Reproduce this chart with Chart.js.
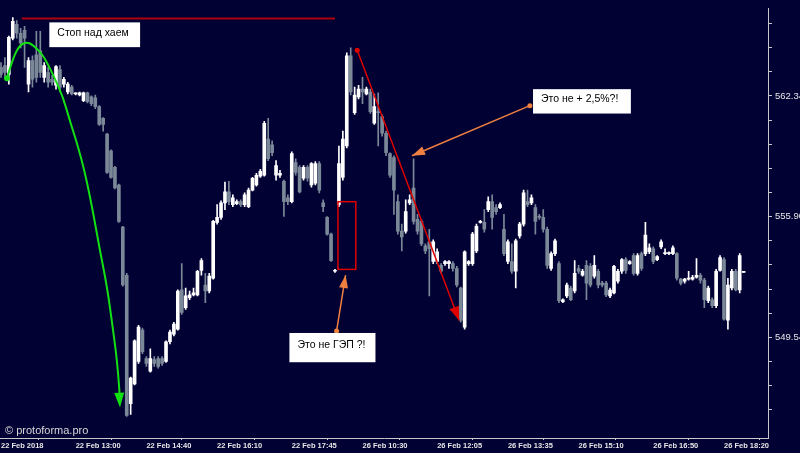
<!DOCTYPE html>
<html>
<head>
<meta charset="utf-8">
<script src="https://cdn.jsdelivr.net/npm/chart.js@4.4.1/dist/chart.umd.min.js"></script>
<style>
  html, body { margin: 0; padding: 0; background: #010134; }
  #wrap { width: 800px; height: 453px; }
</style>
</head>
<body>
<div id="wrap"><canvas id="chart"></canvas></div>
<script>
// ── Data ─────────────────────────────────────────────────
const opens = [563.86,563.96,563.49,565.42,566.15,565.68,565.84,562.97,564.22,564.53,564.74,563.33,563.59,563.23,562.91,563.75,562.97,562.55,562.81,562.44,
  562.39,562.08,562.50,562.29,562.24,561.77,561.14,560.30,559.41,558.53,557.59,555.34,552.78,545.93,546.98,548.18,549.85,548.34,547.66,548.28,
  548.34,548.34,548.18,549.23,549.64,549.90,552.00,551.05,551.58,551.73,551.73,553.04,552.26,551.94,552.62,555.60,555.86,556.64,557.22,556.54,
  556.59,556.70,556.54,556.44,557.32,557.59,558.06,558.11,560.04,559.73,558.11,558.11,557.79,556.91,556.70,558.79,558.53,557.95,558.53,557.59,
  557.69,558.73,556.64,555.86,554.97,552.99,556.54,558.00,559.67,564.48,561.45,562.29,562.70,562.44,562.55,560.88,561.50,561.24,560.35,559.26,
  559.05,556.70,555.13,555.13,556.64,557.43,555.76,555.65,554.35,554.56,553.51,553.51,553.30,553.40,553.40,553.40,553.14,552.10,550.01,553.40,
  553.40,554.08,555.60,555.60,556.28,556.70,556.38,556.38,555.23,553.51,553.51,552.99,554.87,555.50,556.70,556.64,556.38,555.91,555.86,555.23,
  553.14,553.93,553.40,551.37,551.68,552.10,551.94,553.14,552.78,553.30,553.25,552.73,552.99,552.36,552.36,551.68,551.84,552.46,552.99,553.61,
  553.40,553.82,552.88,553.93,553.93,554.03,554.19,553.61,554.29,553.93,553.93,553.93,553.93,552.57,552.46,552.57,552.57,552.67,552.78,552.52,
  551.42,551.47,551.16,553.04,553.61,550.38,552.10,552.99,551.99,552.93];
const highs = [564.12,564.38,565.53,566.52,566.36,565.95,566.05,564.38,564.48,565.79,565.79,564.12,563.86,563.44,563.96,563.96,563.33,563.07,562.91,562.50,
  562.55,562.55,562.55,562.34,562.39,561.82,561.19,560.35,559.47,558.58,557.64,555.39,552.88,547.35,549.33,550.11,549.96,548.44,548.86,548.44,
  548.44,548.44,549.28,549.85,550.27,552.00,553.40,552.10,551.94,552.10,553.04,553.67,552.88,552.88,555.70,556.54,556.75,557.74,557.79,557.06,
  556.80,556.80,557.17,557.43,558.00,558.21,558.42,560.98,561.14,559.94,558.89,558.37,557.85,557.06,559.36,558.99,558.63,558.63,558.63,558.79,
  558.84,558.84,556.80,555.91,555.02,553.09,559.67,560.46,564.64,564.90,562.81,562.91,563.33,562.81,562.70,562.44,562.50,561.35,560.46,559.31,
  559.15,557.06,555.50,556.80,557.06,558.99,556.02,555.76,554.45,555.23,554.66,554.19,553.40,553.56,553.56,553.51,553.25,552.15,554.08,553.56,
  555.07,555.50,555.70,556.28,556.96,557.06,556.54,556.64,556.02,554.66,554.45,554.71,555.60,557.32,557.32,557.06,556.54,556.02,556.28,555.34,
  554.03,554.71,553.51,551.52,552.36,552.20,553.56,553.30,553.09,553.56,553.40,553.82,553.09,552.46,552.46,552.10,553.30,553.09,553.67,553.72,
  553.56,553.93,553.93,554.03,555.60,554.45,554.29,553.82,554.66,554.19,554.03,554.35,553.98,552.62,552.62,552.99,552.78,553.67,552.88,552.62,
  552.20,551.58,553.09,553.82,553.72,552.62,553.09,553.09,553.93,552.95];
const lows = [563.33,563.33,562.97,565.32,565.42,564.90,563.86,562.55,562.81,563.07,563.33,563.07,562.81,562.91,562.70,562.55,562.81,562.44,562.39,562.39,
  562.34,562.03,561.97,561.82,561.66,560.77,560.46,558.21,557.95,557.38,555.60,552.20,545.25,545.36,546.93,548.08,548.60,547.92,547.61,547.92,
  547.82,547.97,548.13,549.12,549.54,549.85,550.69,550.95,551.47,551.68,551.68,552.78,551.32,551.84,552.57,555.50,555.76,556.28,556.54,556.44,
  556.54,556.44,556.44,556.38,557.27,557.53,558.00,558.06,558.89,559.15,557.85,558.00,555.91,556.54,556.64,558.11,557.17,557.85,557.79,557.48,
  557.59,557.17,556.17,554.92,553.51,552.93,556.44,557.85,559.57,562.39,561.35,562.18,561.92,562.39,561.40,560.82,559.67,560.20,559.15,558.00,
  556.02,554.97,554.08,555.02,556.54,555.50,554.97,554.35,553.93,551.68,553.40,553.40,552.88,553.30,553.14,552.99,552.15,550.27,549.90,553.30,
  553.30,553.98,555.55,555.07,556.17,555.23,556.02,556.33,553.82,553.40,552.88,552.10,554.76,555.39,556.44,556.54,554.97,555.76,555.07,553.14,
  553.04,553.82,551.32,551.32,551.58,551.42,551.84,552.88,552.73,551.47,552.15,552.62,552.10,552.15,551.63,551.58,551.78,552.36,552.88,552.88,
  553.35,552.78,552.78,553.04,553.82,553.93,553.40,553.56,554.19,553.88,553.88,553.88,552.52,552.26,552.36,552.52,552.52,552.62,552.36,551.05,
  551.32,551.05,551.05,552.99,550.38,549.90,552.00,551.94,551.84,552.93];
const closes = [563.49,563.59,565.47,566.31,565.68,565.16,565.42,564.22,563.23,563.33,563.59,563.96,563.07,563.07,563.91,562.81,563.23,562.97,562.44,562.50,
  562.50,562.50,562.03,561.92,561.77,560.82,560.82,558.26,558.00,557.43,555.65,552.26,545.30,547.29,549.28,550.01,548.70,548.08,548.34,548.08,
  547.92,548.08,549.23,549.75,550.17,551.94,550.79,551.68,551.73,551.84,552.99,553.56,551.94,552.73,555.65,555.86,556.64,557.22,556.70,556.91,
  556.70,556.54,557.06,557.32,557.95,558.11,558.32,560.88,559.00,559.31,558.63,558.21,556.70,556.70,559.26,558.26,557.22,558.53,557.95,558.73,
  558.73,557.32,556.44,554.97,553.56,553.04,558.73,560.04,564.48,562.55,562.39,562.70,562.55,562.70,561.50,561.77,561.45,560.35,559.31,558.11,
  557.32,555.13,554.82,556.17,556.80,555.65,555.13,554.45,554.08,554.19,554.56,554.03,552.99,553.51,553.51,553.14,552.26,550.38,554.03,553.51,
  554.97,555.39,555.65,555.23,556.70,555.86,556.17,556.54,553.93,554.56,552.99,554.61,555.50,557.17,556.54,556.91,555.65,555.86,555.23,553.30,
  553.93,554.61,551.42,551.47,552.26,551.47,552.88,552.99,552.99,552.36,552.26,553.30,552.26,552.26,551.73,551.99,553.25,552.99,553.61,553.04,
  553.51,552.88,553.82,553.14,554.92,554.24,553.51,553.77,554.56,553.98,553.98,554.24,552.62,552.36,552.57,552.62,552.67,552.78,552.52,551.47,
  552.10,551.16,552.99,553.72,550.43,552.26,552.99,551.99,553.82,552.95];

const timeLabels = ["22 Feb 2018", "22 Feb 13:00", "22 Feb 14:40", "22 Feb 16:10", "22 Feb 17:45",
  "26 Feb 10:30", "26 Feb 12:05", "26 Feb 13:35", "26 Feb 15:10", "26 Feb 16:50", "26 Feb 18:20"];
const timeLabelBars = [0, 19, 37, 55, 74, 92, 111, 129, 147, 166, 184];
const priceLabels = [562.341, 555.904, 549.540];

const BG = "#010134";
const UP = "#ffffff";
const DOWN = "#7b8898";
const AXIS = "#c8c8cc";

const bars = opens.map((_, i) => i);
const candleColor = bars.map(i => closes[i] >= opens[i] ? UP : DOWN);

// ── Drawings on top of the chart (bar index, price) ───────
const stopLine = { from: 5.3, to: 85, price: 566.47 };
const greenArc = [[1.53,563.28],[3.05,564.38],[4.83,565.06],[6.62,565.21],[8.14,565.06],[10.69,564.53],[13.23,563.49],
  [15.78,562.29],[17.56,560.98],[19.34,559.83],[21.37,558.26],[23.41,556.17],[25.19,554.08],[26.97,552.20],
  [28.5,549.90],[29.77,547.82],[30.28,545.72]];
const gapBox = { i0: 85.75, i1: 90.3, p0: 556.70, p1: 553.09 };
const redTrend = { from: [90.66, 564.78], to: [116.6, 550.36] };
const gapArrow = { from: [85.4, 549.8], to: [87.7, 552.79] };
const jumpArrow = { from: [134.6, 561.82], to: [104.6, 559.15] };
const notes = [
  { text: "Стоп над хаем", i0: 12.3, i1: 35.4, p0: 566.26, p1: 564.94 },
  { text: "Это не ГЭП ?!", i0: 73.4, i1: 95.3, p0: 549.70, p1: 548.14 },
  { text: "Это не + 2,5%?!", i0: 135.4, i1: 160.3, p0: 562.70, p1: 561.40 }
];

function arrowHead(ctx, x0, y0, x1, y1, len, half, color) {
  const a = Math.atan2(y1 - y0, x1 - x0);
  ctx.fillStyle = color;
  ctx.beginPath();
  ctx.moveTo(x1, y1);
  ctx.lineTo(x1 - len * Math.cos(a) + half * Math.sin(a), y1 - len * Math.sin(a) - half * Math.cos(a));
  ctx.lineTo(x1 - len * Math.cos(a) - half * Math.sin(a), y1 - len * Math.sin(a) + half * Math.cos(a));
  ctx.closePath();
  ctx.fill();
}

function dot(ctx, x, y, r, color) {
  ctx.fillStyle = color;
  ctx.beginPath();
  ctx.arc(x, y, r, 0, Math.PI * 2);
  ctx.fill();
}

const background = {
  id: "background",
  beforeDraw(chart) {
    const ctx = chart.ctx;
    ctx.save();
    ctx.fillStyle = BG;
    ctx.fillRect(0, 0, chart.width, chart.height);
    ctx.restore();
  }
};

const drawings = {
  id: "drawings",
  afterDatasetsDraw(chart) {
    const ctx = chart.ctx, xs = chart.scales.x, ys = chart.scales.y;
    const px = i => xs.getPixelForValue(i), py = p => ys.getPixelForValue(p);
    ctx.save();

    // stop level
    ctx.strokeStyle = "#b0000c"; ctx.lineWidth = 2;
    ctx.beginPath();
    ctx.moveTo(px(stopLine.from), py(stopLine.price));
    ctx.lineTo(px(stopLine.to), py(stopLine.price));
    ctx.stroke();

    // green arc
    const pts = greenArc.map(([i, p]) => [px(i), py(p)]);
    const n = pts.length;
    ctx.strokeStyle = "#12e012"; ctx.lineWidth = 2;
    ctx.beginPath();
    ctx.moveTo(pts[0][0], pts[0][1]);
    for (let k = 1; k < n - 2; k++) {
      const mx = (pts[k][0] + pts[k + 1][0]) / 2, my = (pts[k][1] + pts[k + 1][1]) / 2;
      ctx.quadraticCurveTo(pts[k][0], pts[k][1], mx, my);
    }
    ctx.quadraticCurveTo(pts[n - 2][0], pts[n - 2][1], pts[n - 1][0], pts[n - 1][1] - 8);
    ctx.stroke();
    arrowHead(ctx, pts[n - 2][0], pts[n - 2][1], pts[n - 1][0], pts[n - 1][1], 15, 5, "#12e012");
    dot(ctx, pts[0][0], pts[0][1], 3, "#12e012");

    // gap box
    ctx.strokeStyle = "#e00000"; ctx.lineWidth = 1.5;
    ctx.strokeRect(px(gapBox.i0), py(gapBox.p0), px(gapBox.i1) - px(gapBox.i0), py(gapBox.p1) - py(gapBox.p0));

    // red trend arrow
    const r0 = [px(redTrend.from[0]), py(redTrend.from[1])], r1 = [px(redTrend.to[0]), py(redTrend.to[1])];
    ctx.strokeStyle = "#e00000"; ctx.lineWidth = 1.5;
    ctx.beginPath(); ctx.moveTo(r0[0], r0[1]); ctx.lineTo(r1[0], r1[1]); ctx.stroke();
    arrowHead(ctx, r0[0], r0[1], r1[0], r1[1], 14, 5, "#e00000");
    dot(ctx, r0[0], r0[1], 2.5, "#e00000");

    // orange pointers
    [gapArrow, jumpArrow].forEach(a => {
      const a0 = [px(a.from[0]), py(a.from[1])], a1 = [px(a.to[0]), py(a.to[1])];
      ctx.strokeStyle = "#f08040"; ctx.lineWidth = 1.5;
      ctx.beginPath(); ctx.moveTo(a0[0], a0[1]); ctx.lineTo(a1[0], a1[1]); ctx.stroke();
      arrowHead(ctx, a0[0], a0[1], a1[0], a1[1], 13, 4.5, "#f08040");
      dot(ctx, a0[0], a0[1], 2.5, "#f08040");
    });

    // text notes
    ctx.font = "10.5px 'Liberation Sans', Arial, sans-serif";
    ctx.textBaseline = "middle";
    ctx.textAlign = "left";
    notes.forEach(nt => {
      const x0 = px(nt.i0), x1 = px(nt.i1), y0 = py(nt.p0), y1 = py(nt.p1);
      ctx.fillStyle = "#ffffff";
      ctx.fillRect(x0, y0, x1 - x0, y1 - y0);
      ctx.fillStyle = "#000000";
      ctx.fillText(nt.text, x0 + 8, (y0 + y1) / 2 - 2);
    });

    // watermark
    ctx.fillStyle = "#d8d8d8";
    ctx.font = "11px 'Liberation Sans', Arial, sans-serif";
    ctx.fillText("© protoforma.pro", chart.chartArea.left + 5, chart.chartArea.bottom - 7);
    ctx.restore();
  }
};

new Chart(document.getElementById("chart"), {
  type: "bar",
  data: {
    datasets: [
      {
        label: "wick",
        data: bars.map(i => ({ x: i, y: [lows[i], highs[i]] })),
        backgroundColor: candleColor,
        barThickness: 1,
        minBarLength: 1,
        grouped: false,
        order: 2
      },
      {
        label: "body",
        data: bars.map(i => ({ x: i, y: [opens[i], closes[i]] })),
        backgroundColor: candleColor,
        barThickness: 3,
        minBarLength: 1,
        grouped: false,
        order: 1
      }
    ]
  },
  options: {
    responsive: true,
    maintainAspectRatio: false,
    animation: false,
    layout: { padding: 0 },
    plugins: { legend: { display: false }, tooltip: { enabled: false } },
    scales: {
      x: {
        type: "linear",
        min: -0.25,
        max: 195.2,
        offset: false,
        border: { display: true, color: AXIS, width: 1 },
        grid: { drawOnChartArea: false, drawTicks: true, tickLength: 2, color: AXIS },
        afterBuildTicks: s => { s.ticks = timeLabelBars.map(v => ({ value: v })); },
        afterFit: s => { s.height = 15; },
        ticks: {
          autoSkip: false, maxRotation: 0, align: "start", padding: 1,
          color: "#e6e6e6",
          font: { family: "'Liberation Sans', Arial, sans-serif", size: 7.5, weight: "bold" },
          callback: (v, idx) => timeLabels[idx]
        }
      },
      y: {
        position: "right",
        min: 544.10,
        max: 566.99,
        border: { display: true, color: AXIS, width: 1 },
        grid: { drawOnChartArea: false, drawTicks: true, tickLength: 4, color: AXIS },
        afterBuildTicks: s => {
          const step = (priceLabels[0] - priceLabels[1]) / 5;
          const t = [];
          for (let k = -3; k <= 13; k++) t.push({ value: priceLabels[0] - step * k });
          s.ticks = t;
        },
        afterFit: s => { s.width = 32; },
        ticks: {
          padding: 3, color: "#e6e6e6",
          font: { family: "'Liberation Sans', Arial, sans-serif", size: 9.5 },
          callback: (v, idx) => (idx - 3) % 5 === 0 ? priceLabels[(idx - 3) / 5].toFixed(3) : ""
        }
      }
    }
  },
  plugins: [background, drawings]
});
</script>
</body>
</html>
